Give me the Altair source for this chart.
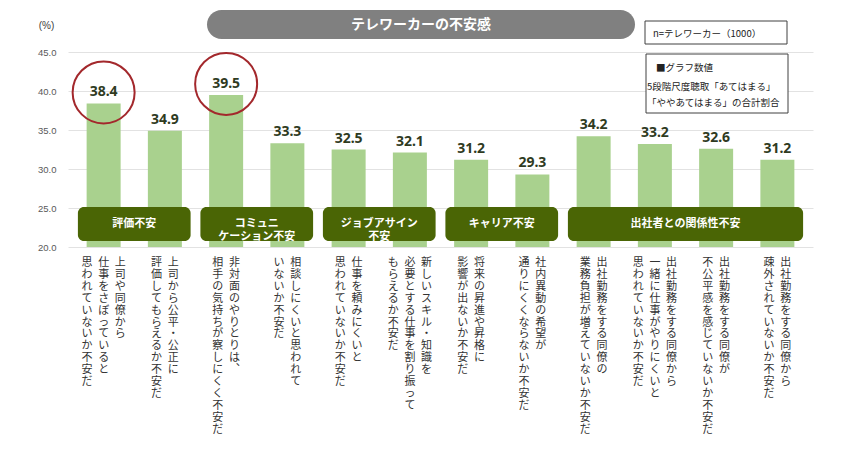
import altair as alt
import pandas as pd

# ---- data ----
values = [38.4, 34.9, 39.5, 33.3, 32.5, 32.1, 31.2, 29.3, 34.2, 33.2, 32.6, 31.2]
labels = [
    ["上司や同僚から", "仕事をさぼっていると", "思われていないか不安だ"],
    ["上司から公平・公正に", "評価してもらえるか不安だ"],
    ["非対面のやりとりは、", "相手の気持ちが察しにくく不安だ"],
    ["相談しにくいと思われて", "いないか不安だ"],
    ["仕事を頼みにくいと", "思われていないか不安だ"],
    ["新しいスキル・知識を", "必要とする仕事を割り振って", "もらえるか不安だ"],
    ["将来の昇進や昇格に", "影響が出ないか不安だ"],
    ["社内異動の希望が", "通りにくくならないか不安だ"],
    ["出社勤務をする同僚の", "業務負担が増えていないか不安だ"],
    ["出社勤務をする同僚から", "一緒に仕事がやりにくいと", "思われていないか不安だ"],
    ["出社勤務をする同僚が", "不公平感を感じていないか不安だ"],
    ["出社勤務をする同僚から", "疎外されていないか不安だ"],
]
group_names = ["評価不安", "コミュニ\nケーション不安", "ジョブアサイン\n不安", "キャリア不安", "出社者との関係性不安"]
group_sizes = [2, 2, 2, 2, 4]
highlight = [0, 2]
y_ticks = [20, 25, 30, 35, 40, 45]
title_text = "テレワーカーの不安感"
note1 = "n=テレワーカー（1000）"
note2_head = "■グラフ数値"
note2_body = ["5段階尺度聴取「あてはまる」", "「ややあてはまる」の合計割合"]

# ---- tables ----
df = pd.DataFrame({"idx": range(len(values)), "value": values})
df["label"] = [f"{v:.1f}" for v in values]
df_hl = df[df["idx"].isin(highlight)]

rows = []
for i, lines in enumerate(labels):
    n = len(lines)
    for j, line in enumerate(lines):
        rows.append({"x": i + ((n - 1) / 2 - j) * 0.27,
                     "t": "\n".join(line.replace("、", "︑"))})
df_lab = pd.DataFrame(rows)

grows = []
start = 0
for name, size in zip(group_names, group_sizes):
    end = start + size - 1
    grows.append({"name": name, "x1": start - 0.42, "x2": end + 0.42, "xc": (start + end) / 2})
    start += size
df_grp = pd.DataFrame(grows)

one = pd.DataFrame({"t": [title_text]})

xs = alt.Scale(domain=[-0.5, 11.5], nice=False, zero=False)
ys = alt.Scale(domain=[20, 45], nice=False, zero=False)
FONT = "Noto Sans CJK JP"

y_axis = alt.Axis(
    values=y_ticks, format=".1f", domain=False, ticks=False, grid=True,
    gridColor="#e2e2e2", labelColor="#595959", labelFontSize=9.5,
    labelPadding=12, labelFont="Liberation Sans", labelOverlap=False,
    labelBaseline="middle", labelFlush=False,
    title="(%)", titleAngle=0, titleX=-22, titleY=-27,
    titleAlign="center", titleBaseline="middle", titleFontSize=10,
    titleFontWeight="normal", titleColor="#404040", titleFont="Liberation Sans")

bars = alt.Chart(df).mark_bar(size=34, color="#a9d18e").encode(
    x=alt.X("idx:Q", scale=xs, axis=None),
    y=alt.Y("value:Q", scale=ys, axis=y_axis),
    y2=alt.datum(20),
)

vals = alt.Chart(df).mark_text(fontSize=14, fontWeight="bold", color="#2f3b1f",
                               baseline="alphabetic", dy=-7, font="Noto Sans").encode(
    x=alt.X("idx:Q", scale=xs, axis=None), y=alt.Y("value:Q", scale=ys, axis=y_axis),
    text="label:N")

circles = alt.Chart(df_hl).mark_point(shape="circle", filled=False, size=3844,
                                      strokeWidth=2, color="#a3282c", opacity=1).encode(
    x=alt.X("idx:Q", scale=xs, axis=None), y=alt.Y("value:Q", scale=ys, axis=y_axis),
    yOffset=alt.value(-11))

boxes = alt.Chart(df_grp).mark_rect(cornerRadius=6, color="#4a6505").encode(
    x=alt.X("x1:Q", scale=xs, axis=None), x2="x2:Q", y=alt.value(155), y2=alt.value(189))

box_text = alt.Chart(df_grp).mark_text(color="white", fontWeight="bold", fontSize=11,
                                       lineBreak="\n", lineHeight=13, baseline="middle",
                                       font=FONT).encode(
    x=alt.X("xc:Q", scale=xs, axis=None), y=alt.value(172), text="name:N")

lab_text = alt.Chart(df_lab).mark_text(color="#333333", fontSize=11, lineBreak="\n",
                                       lineHeight=11.9, baseline="top", align="center",
                                       font=FONT).encode(
    x=alt.X("x:Q", scale=xs, axis=None), y=alt.value(205), text="t:N")

pill = alt.Chart(one).mark_rect(cornerRadius=14.5, color="#808080").encode(
    x=alt.value(139), x2=alt.value(567), y=alt.value(-42), y2=alt.value(-13))
pill_text = alt.Chart(one).mark_text(color="white", fontWeight="bold", fontSize=14,
                                     baseline="middle", font=FONT).encode(
    x=alt.value(353), y=alt.value(-27.5), text="t:N")

nbox1 = alt.Chart(one).mark_rect(fill="white", stroke="#404040", strokeWidth=1).encode(
    x=alt.value(577), x2=alt.value(719), y=alt.value(-31), y2=alt.value(-8))
nbox2 = alt.Chart(one).mark_rect(fill="white", stroke="#404040", strokeWidth=1).encode(
    x=alt.value(578), x2=alt.value(720), y=alt.value(2), y2=alt.value(61))
n1 = alt.Chart(pd.DataFrame({"t": [note1]})).mark_text(
    fontSize=9.5, align="left", baseline="middle", color="#222222", font=FONT).encode(
    x=alt.value(585), y=alt.value(-18), text="t:N")
n2 = alt.Chart(pd.DataFrame({"t": [note2_head]})).mark_text(
    fontSize=9.5, align="left", baseline="middle", color="#222222", font=FONT).encode(
    x=alt.value(588), y=alt.value(16), text="t:N")
n3 = alt.Chart(pd.DataFrame({"t": ["\n".join(note2_body)]})).mark_text(
    fontSize=9.5, align="left", baseline="middle", color="#222222", font=FONT,
    lineBreak="\n", lineHeight=16).encode(
    x=alt.value(579), y=alt.value(35), text="t:N")

chart = alt.layer(bars, vals, circles, boxes, box_text, lab_text,
                  pill, pill_text, nbox1, nbox2, n1, n2, n3).properties(
    width=745, height=195,
    padding={"left": 60, "top": 44, "right": 17, "bottom": 200},
    autosize=alt.AutoSizeParams(type="none"),
).configure(font=FONT).configure_view(stroke=None)

chart.save("out.html", embed_options={"renderer": "svg", "actions": False})
